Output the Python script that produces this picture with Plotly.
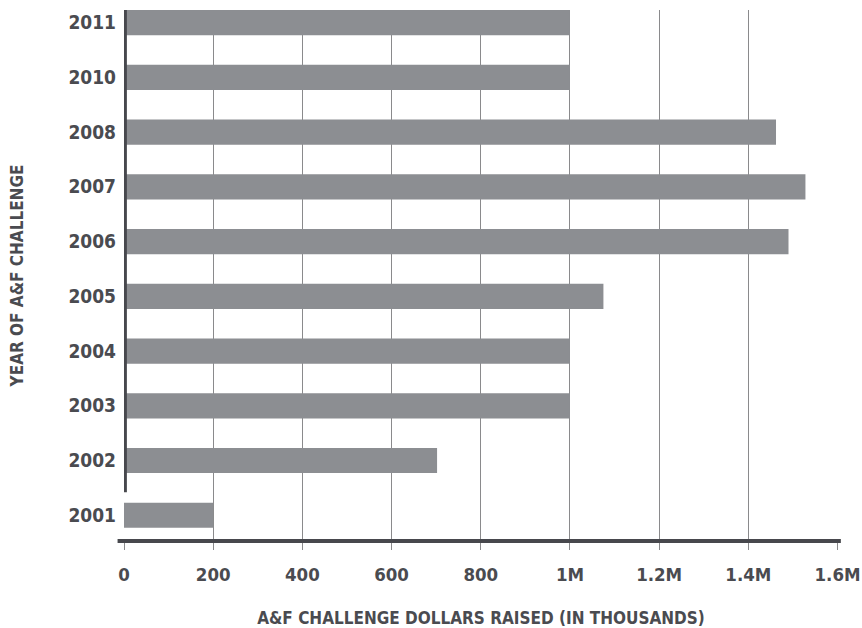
import plotly.graph_objects as go

# A&F Challenge fundraising by year (thousands of dollars)
years = ["2001", "2002", "2003", "2004", "2005", "2006", "2007", "2008", "2010", "2011"]
raised = [200, 702, 1000, 1000, 1075, 1490, 1528, 1462, 1000, 1000]

tick_vals = [0, 200, 400, 600, 800, 1000, 1200, 1400, 1600]
tick_text = ["0", "200", "400", "600", "800", "1M", "1.2M", "1.4M", "1.6M"]

FONT = "DejaVu Sans Condensed, Liberation Sans Narrow, sans-serif"
TEXT = "#4a4b50"
BAR = "#8c8e92"
GRID = "#8a8a8c"

fig = go.Figure(
    go.Bar(
        x=raised,
        y=years,
        orientation="h",
        marker=dict(color=BAR, line=dict(width=0)),
        width=0.46,
        hoverinfo="x+y",
    )
)

fig.update_layout(
    width=862,
    height=628,
    margin=dict(l=124, r=24, t=10, b=87),
    paper_bgcolor="white",
    plot_bgcolor="white",
    showlegend=False,
    bargap=0.54,
    font=dict(family=FONT, color=TEXT, size=19, weight="bold"),
)

fig.update_xaxes(
    range=[0, 1601],
    automargin=False,
    tickvals=tick_vals,
    ticktext=tick_text,
    showgrid=True,
    gridcolor=GRID,
    gridwidth=1.2,
    zeroline=False,
    showline=False,
    ticks="outside",
    ticklen=8,
    tickwidth=1.2,
    tickcolor=GRID,
    ticklabelstandoff=9,
    ticklabeloverflow="allow",
    tickfont=dict(family=FONT, size=18.5, color=TEXT, weight="bold"),
    title=dict(
        text="A&F CHALLENGE DOLLARS RAISED (IN THOUSANDS)",
        font=dict(family=FONT, size=17, color=TEXT, weight="bold"),
        standoff=28,
    ),
)

fig.update_yaxes(
    type="category",
    automargin=False,
    categoryorder="array",
    categoryarray=years,
    range=[-0.47, 9.23],
    showgrid=False,
    zeroline=False,
    showline=False,
    ticks="",
    ticklabelstandoff=7,
    tickfont=dict(family=FONT, size=19, color=TEXT, weight="bold"),
    title=dict(
        text="YEAR OF A&F CHALLENGE",
        font=dict(family=FONT, size=17, color=TEXT, weight="bold"),
        standoff=40,
    ),
)

# heavy baseline under the bars
fig.add_shape(
    type="line", xref="paper", yref="paper",
    x0=-0.009, x1=1.004, y0=0, y1=0,
    line=dict(color="#47484d", width=4),
)
# heavy vertical axis stopping just above the 2001 bar
fig.add_shape(
    type="line", xref="x", yref="y",
    x0=2, x1=2, y0=0.42, y1=9.23,
    line=dict(color="#47484d", width=4),
)

fig.write_html("out.html")
